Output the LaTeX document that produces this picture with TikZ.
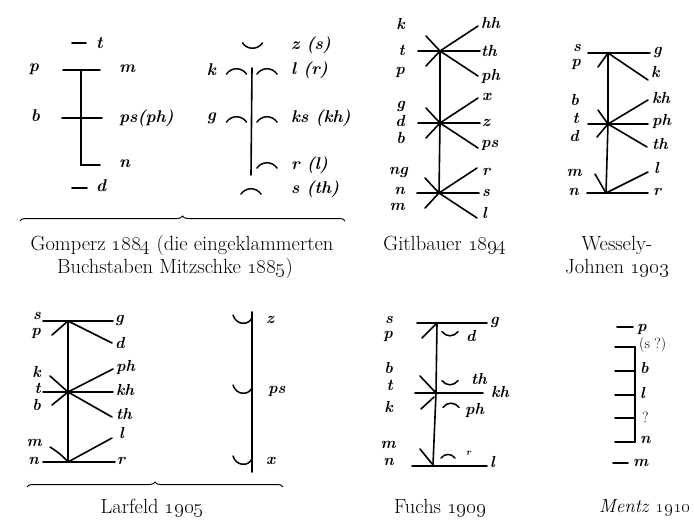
\RequirePackage{fix-cm}
\documentclass[tikz,border=0pt]{standalone}
\usepackage{tikz}
\usetikzlibrary{calc,decorations.pathreplacing}

\tikzset{
  frownarc/.pic={\draw[line width=1.5pt,line cap=round] (-10,3) .. controls (-5,-4) and (5,-4) .. (10,3);},
  cuparc/.pic={\draw[line width=1.5pt,line cap=round] (-10,-3) .. controls (-5,4) and (5,4) .. (10,-3);},
  hookarc/.pic={\draw[line width=1.5pt,line cap=round] (-19,-3) .. controls (-16,7) and (-4,8) .. (0,0);}
}

\begin{document}
\begin{tikzpicture}[x=1pt,y=-1pt,
  ln/.style={line width=1.6pt,line cap=round},
  lab/.style={font=\fontsize{16}{16}\selectfont\bfseries\itshape,inner sep=0pt},
  biglab/.style={font=\fontsize{17}{17}\selectfont\bfseries\itshape,inner sep=0pt},
  uplab/.style={font=\fontsize{15}{15}\selectfont,inner sep=0pt},
  caption/.style={font=\fontsize{20.5}{24}\selectfont,inner sep=0pt},
  brc/.style={decorate,decoration={brace,amplitude=5pt},line width=1pt}
]
\useasboundingbox (0,0) rectangle (694,522);

% Gomperz, left figure
\coordinate (a1) at (81,70);
\coordinate (a2) at (81,118);
\coordinate (a3) at (81,165);
\draw[ln] (72,43) -- (86,43);
\draw[ln] (63,70) -- (100,70);
\draw[ln] (62,118) -- (102,118);
\draw[ln] (a1) -- (a2) -- (a3) -- (100,165);
\draw[ln] (72,188) -- (87,188);
\node[biglab,anchor=west] (at) at (96,43) {t};
\node[biglab,anchor=east] (ap) at (39,69) {p};
\node[biglab,anchor=west] (am) at (119,69) {m};
\node[biglab,anchor=east] (ab) at (40,116) {b};
\node[biglab,anchor=west] (aps) at (119,118) {ps(ph)};
\node[biglab,anchor=west] (an) at (119,164) {n};
\node[biglab,anchor=west] (ad) at (96,186) {d};

% Gomperz, right figure
\coordinate (b1) at (252,68);
\coordinate (b2) at (251,175);
\draw[ln] (b1) -- (b2);
\pic at (252.5,46) {cuparc};
\pic at (236.5,71) {frownarc};
\pic at (267,71) {frownarc};
\pic at (236.5,119) {frownarc};
\pic at (267,119) {frownarc};
\pic at (267,165) {frownarc};
\pic at (251,191) {frownarc};
\node[biglab,anchor=west] (bz) at (291,45) {z (s)};
\node[biglab,anchor=east] (bk) at (216,70) {k};
\node[biglab,anchor=west] (bl) at (291,70) {l (r)};
\node[biglab,anchor=east] (bg) at (216,118) {g};
\node[biglab,anchor=west] (bks) at (291,118) {ks (kh)};
\node[biglab,anchor=west] (br) at (291,165) {r (l)};
\node[biglab,anchor=west] (bs) at (291,189) {s (th)};

\draw[brc] (20,221) -- (345,221);
\node[caption] (capa) at (182,245) {Gomperz \oldstylenums{1884} (die eingeklammerten};
\node[caption] (capb) at (175,268) {Buchstaben Mitzschke \oldstylenums{1885})};

% Gitlbauer
\coordinate (c1) at (440,51);
\coordinate (c2) at (440,123);
\coordinate (c3) at (439,193);
\draw[ln] (c1) -- (c2) -- (c3);
\foreach \c in {c1,c2,c3} {
  \draw[ln] ($(\c)+(-22,0)$) -- ($(\c)+(40,0)$);
  \draw[ln] ($(\c)+(38,-25)$) -- (\c) -- ($(\c)+(38,25)$);
  \draw[ln] ($(\c)+(-14,-15)$) -- (\c) -- ($(\c)+(-14,15)$);
}
\node[lab,anchor=east] (ck) at (405,24) {k};
\node[lab,anchor=east] (ct) at (405,50) {t};
\node[lab,anchor=east] (cp) at (405,72) {p};
\node[lab,anchor=east] (cg) at (405,106) {g};
\node[lab,anchor=east] (cd) at (405,121) {d};
\node[lab,anchor=east] (cb) at (405,138) {b};
\node[lab,anchor=east] (cng) at (408,172) {ng};
\node[lab,anchor=east] (cn) at (405,191) {n};
\node[lab,anchor=east] (cm) at (405,207) {m};
\node[lab,anchor=west] (chh) at (481,23) {hh};
\node[lab,anchor=west] (cth) at (481,51) {th};
\node[lab,anchor=west] (cph) at (481,76) {ph};
\node[lab,anchor=west] (cx) at (482,97) {x};
\node[lab,anchor=west] (cz) at (482,123) {z};
\node[lab,anchor=west] (cps) at (481,145) {ps};
\node[lab,anchor=west] (cr) at (482,172) {r};
\node[lab,anchor=west] (cs) at (482,193) {s};
\node[lab,anchor=west] (cl) at (482,213) {l};
\node[caption] (capc) at (445,245) {Gitlbauer \oldstylenums{1894}};

% Wessely-Johnen
\coordinate (d1) at (608,53);
\coordinate (d2) at (608,124);
\coordinate (d3) at (606,193);
\draw[ln] (d1) -- (d2) -- (d3);
\draw[ln] (588,53) -- (650,53);
\draw[ln] (598,67) -- (d1) -- (648,80);
\draw[ln] (588,124) -- (648,124);
\draw[ln] (598,110) -- (d2) -- (647,147);
\draw[ln] (597,137) -- (d2) -- (648,100);
\draw[ln] (587,193) -- (648,193);
\draw[ln] (595,174) -- (d3) -- (648,172);
\node[lab,anchor=east] (ds) at (581,48) {s};
\node[lab,anchor=east] (dp) at (581,64) {p};
\node[lab,anchor=east] (db) at (579,100) {b};
\node[lab,anchor=east] (dt) at (579,118) {t};
\node[lab,anchor=east] (dd) at (579,136) {d};
\node[lab,anchor=east] (dm) at (582,173) {m};
\node[lab,anchor=east] (dn) at (579,192) {n};
\node[lab,anchor=west] (dg) at (653,52) {g};
\node[lab,anchor=west] (dk) at (651,72) {k};
\node[lab,anchor=west] (dkh) at (652,98) {kh};
\node[lab,anchor=west] (dph) at (652,121) {ph};
\node[lab,anchor=west] (dth) at (652,144) {th};
\node[lab,anchor=west] (dl) at (654,168) {l};
\node[lab,anchor=west] (dr) at (653,192) {r};
\node[caption] (capd) at (617,245) {Wessely-};
\node[caption] (cape) at (617,268) {Johnen \oldstylenums{1903}};

% Larfeld, left figure
\coordinate (e1) at (68,321);
\coordinate (e2) at (68,392);
\coordinate (e3) at (68,462);
\draw[ln] (e1) -- (e2) -- (e3);
\draw[ln] (43,321) -- (113,321);
\draw[ln] (52,335) -- (e1) -- (112,343);
\draw[ln] (43,392) -- (113,392);
\draw[ln] (50,376) -- (e2) -- (112,417);
\draw[ln] (52,405) -- (e2) -- (113,369);
\draw[ln] (43,462) -- (115,462);
\draw[ln] (50,447) .. controls (58,452) and (64,457) .. (e3) -- (112,438);
\node[lab,anchor=east] (es) at (41,316) {s};
\node[lab,anchor=east] (ep) at (41,333) {p};
\node[lab,anchor=east] (ek) at (41,372) {k};
\node[lab,anchor=east] (et) at (41,388) {t};
\node[lab,anchor=east] (eb) at (41,405) {b};
\node[lab,anchor=east] (em) at (42,443) {m};
\node[lab,anchor=east] (en) at (39,461) {n};
\node[lab,anchor=west] (eg) at (115,320) {g};
\node[lab,anchor=west] (ed) at (115,343) {d};
\node[lab,anchor=west] (eph) at (116,367) {ph};
\node[lab,anchor=west] (ekh) at (116,390) {kh};
\node[lab,anchor=west] (eth) at (116,414) {th};
\node[lab,anchor=west] (el) at (119,433) {l};
\node[lab,anchor=west] (er) at (117,461) {r};

% Larfeld, right figure
\coordinate (f1) at (252,312);
\coordinate (f2) at (252,472);
\draw[ln] (f1) -- (f2);
\pic at (252,318) {hookarc};
\pic at (252,388) {hookarc};
\pic at (252,459) {hookarc};
\node[lab,anchor=west] (fz) at (266,320) {z};
\node[lab,anchor=west] (fps) at (268,391) {ps};
\node[lab,anchor=west] (fx) at (266,461) {x};

\draw[brc] (27,487) -- (283,487);
\node[caption] (capf) at (152,508) {Larfeld \oldstylenums{1905}};

% Fuchs
\coordinate (g1) at (437,323);
\coordinate (g2) at (436,393);
\coordinate (g3) at (433,465);
\draw[ln] (g1) -- (g2) -- (g3);
\draw[ln] (417,323) -- (487,323);
\draw[ln] (422,338) -- (g1);
\pic[scale=0.8] at (450,334) {cuparc};
\draw[ln] (415,393) -- (483,393);
\draw[ln] (420,376) -- (g2);
\draw[ln] (421,409) -- (434,397);
\pic[scale=0.8] at (450,383) {cuparc};
\pic[scale=0.8] at (451,405) {frownarc};
\draw[ln] (412,466) -- (487,466);
\draw[ln] (420,449) -- (g3);
\pic[scale=0.7] at (448,456) {frownarc};
\node[lab,anchor=east] (gs) at (393,320) {s};
\node[lab,anchor=east] (gp) at (393,336) {p};
\node[lab,anchor=east] (gb) at (393,368) {b};
\node[lab,anchor=east] (gt) at (393,385) {t};
\node[lab,anchor=east] (gk) at (393,407) {k};
\node[lab,anchor=east] (gm) at (396,445) {m};
\node[lab,anchor=east] (gn) at (394,462) {n};
\node[lab,anchor=west] (gg) at (490,322) {g};
\node[lab,anchor=west] (gd) at (466,336) {d};
\node[lab,anchor=west] (gth) at (471,379) {th};
\node[lab,anchor=west] (gkh) at (491,392) {kh};
\node[lab,anchor=west] (gph) at (465,410) {ph};
\node[lab,anchor=west,scale=0.6] (gr) at (466,453) {r};
\node[lab,anchor=west] (gl) at (490,462) {l};
\node[caption] (capg) at (440,508) {Fuchs \oldstylenums{1909}};

% Mentz
\coordinate (h1) at (635,347);
\coordinate (h2) at (635,442);
\draw[ln] (h1) -- (h2);
\foreach \yy in {347,371,395,418,442}
  \draw[ln] (615,\yy) -- (635,\yy);
\draw[ln] (617,327) -- (633,327);
\draw[ln] (613,463) -- (628,463);
\node[lab,anchor=west] (hp) at (637,329) {p};
\node[uplab,anchor=west] (hs) at (639,345) {(s ?)};
\node[lab,anchor=west] (hb) at (640,368) {b};
\node[lab,anchor=west] (hl) at (640,393) {l};
\node[uplab,anchor=west] (hq) at (642,417) {?};
\node[lab,anchor=west] (hn) at (640,440) {n};
\node[lab,anchor=west] (hm) at (633,463) {m};
\node[caption,font=\fontsize{19}{22}\selectfont\itshape] (caph) at (645,508) {Mentz \oldstylenums{1910}};
\end{tikzpicture}
\end{document}
